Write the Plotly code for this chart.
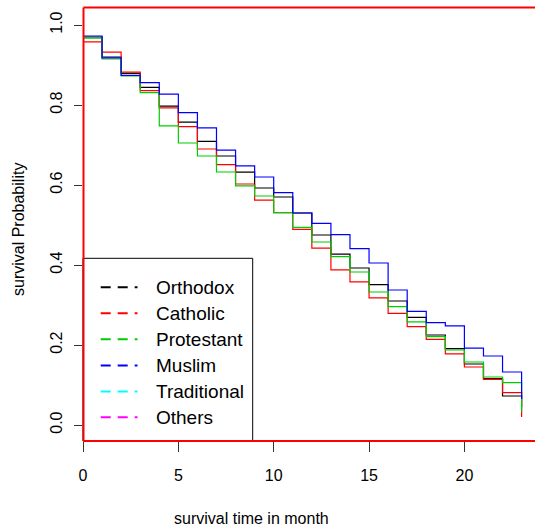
import plotly.graph_objects as go

# Survival probability at the start of each month (0..22) plus the value after the last drop at month 23
months = list(range(24))
groups = ["Orthodox", "Catholic", "Protestant", "Muslim", "Traditional", "Others"]
colors = ["#000000", "#FF0000", "#00CD00", "#0000FF", "#00FFFF", "#FF00FF"]

orthodox = [0.970, 0.920, 0.879, 0.844, 0.797, 0.757, 0.709, 0.6725, 0.632, 0.5925, 0.570, 0.530,
            0.475, 0.427, 0.3925, 0.351, 0.310, 0.269, 0.225, 0.191, 0.1525, 0.116, 0.0725, 0.045]
catholic = [0.958, 0.932, 0.882, 0.836, 0.793, 0.746, 0.690, 0.651, 0.6025, 0.562, 0.531, 0.489,
            0.442, 0.388, 0.358, 0.318, 0.279, 0.246, 0.214, 0.178, 0.145, 0.114, 0.081, 0.020]
protestant = [0.967, 0.915, 0.8725, 0.831, 0.748, 0.705, 0.6725, 0.6325, 0.598, 0.5725, 0.531, 0.494,
              0.4575, 0.421, 0.3825, 0.3325, 0.296, 0.258, 0.221, 0.1875, 0.1575, 0.120, 0.106, 0.033]
muslim = [0.9725, 0.918, 0.874, 0.856, 0.827, 0.781, 0.743, 0.687, 0.648, 0.620, 0.581, 0.530,
          0.504, 0.476, 0.441, 0.405, 0.3375, 0.284, 0.256, 0.248, 0.192, 0.1725, 0.1325, 0.065]

series = [orthodox, catholic, protestant, muslim]

y_ticks = [0.0, 0.2, 0.4, 0.6, 0.8, 1.0]
x_ticks = [0, 5, 10, 15, 20]

W, H = 535, 532
L, T, B = 83, 9, 91
PW = W - L
PH = H - T - B
X_PER_PX = 1 / 19.07
FONT = "Liberation Sans, Arial, sans-serif"


def px2x(px):
    return (px - L) / PW


def py2y(py):
    return (H - B - py) / PH


fig = go.Figure()
for name, vals, col in zip(groups, series, colors):
    fig.add_trace(go.Scatter(x=months, y=vals, mode="lines", line=dict(color=col, width=1.2, shape="hv"),
                             name=name, showlegend=False, hoverinfo="skip"))

shapes = []
annotations = []

# Legend box with dashed keys
shapes.append(dict(type="rect", xref="paper", yref="paper", x0=px2x(83), x1=px2x(252.7),
                   y0=py2y(441), y1=py2y(258.3), line=dict(color="black", width=1), fillcolor="white",
                   layer="above"))
legend_rows = [287.3, 313.3, 339.3, 365.5, 391.5, 417.3]
for name, col, ry in zip(groups, colors, legend_rows):
    shapes.append(dict(type="line", xref="paper", yref="paper", x0=px2x(100.7), x1=px2x(137.5),
                       y0=py2y(ry), y1=py2y(ry), line=dict(color=col, width=2, dash="10px,7px"),
                       layer="above"))
    annotations.append(dict(text=name, xref="paper", yref="paper", x=px2x(153.5), y=py2y(ry),
                            xanchor="left", yanchor="middle", showarrow=False,
                            font=dict(family=FONT, size=19, color="black")))

# Red frame around the plotting region (left, top, bottom)
frame = dict(color="#FF0000", width=2)
shapes.append(dict(type="line", xref="paper", yref="paper", x0=px2x(83.5), x1=px2x(83.5),
                   y0=py2y(441), y1=py2y(7.5), line=frame, layer="above"))
shapes.append(dict(type="line", xref="paper", yref="paper", x0=px2x(83.5), x1=1.02,
                   y0=py2y(7.5), y1=py2y(7.5), line=frame, layer="above"))
shapes.append(dict(type="line", xref="paper", yref="paper", x0=px2x(83.5), x1=1.02,
                   y0=py2y(441), y1=py2y(441), line=frame, layer="above"))

# Axis titles
annotations.append(dict(text="survival time in month", xref="paper", yref="paper", x=px2x(251.5),
                        y=py2y(518), xanchor="center", yanchor="middle", showarrow=False,
                        font=dict(family=FONT, size=16, color="black")))
annotations.append(dict(text="survival Probability", xref="paper", yref="paper", x=px2x(18),
                        y=py2y(230), xanchor="center", yanchor="middle", showarrow=False, textangle=-90,
                        font=dict(family=FONT, size=16, color="black")))

fig.update_layout(
    width=W, height=H,
    margin=dict(l=L, r=0, t=T, b=B, pad=0),
    paper_bgcolor="white", plot_bgcolor="white",
    showlegend=False,
    shapes=shapes, annotations=annotations,
    xaxis=dict(range=[0, PW * X_PER_PX], tickvals=x_ticks, ticktext=[str(v) for v in x_ticks],
               ticks="outside", ticklen=10, tickwidth=1, tickcolor="#333333", ticklabelstandoff=10,
               showgrid=False, zeroline=False, showline=False,
               tickfont=dict(family=FONT, size=16, color="black")),
    yaxis=dict(range=[-0.04, 1.04], tickvals=y_ticks, ticktext=[f"{v:.1f}" for v in y_ticks],
               ticks="outside", ticklen=8, tickwidth=1, tickcolor="#333333", tickangle=-90,
               ticklabelstandoff=6,
               showgrid=False, zeroline=False, showline=False,
               tickfont=dict(family=FONT, size=16, color="black")),
)

fig.write_html("out.html")
